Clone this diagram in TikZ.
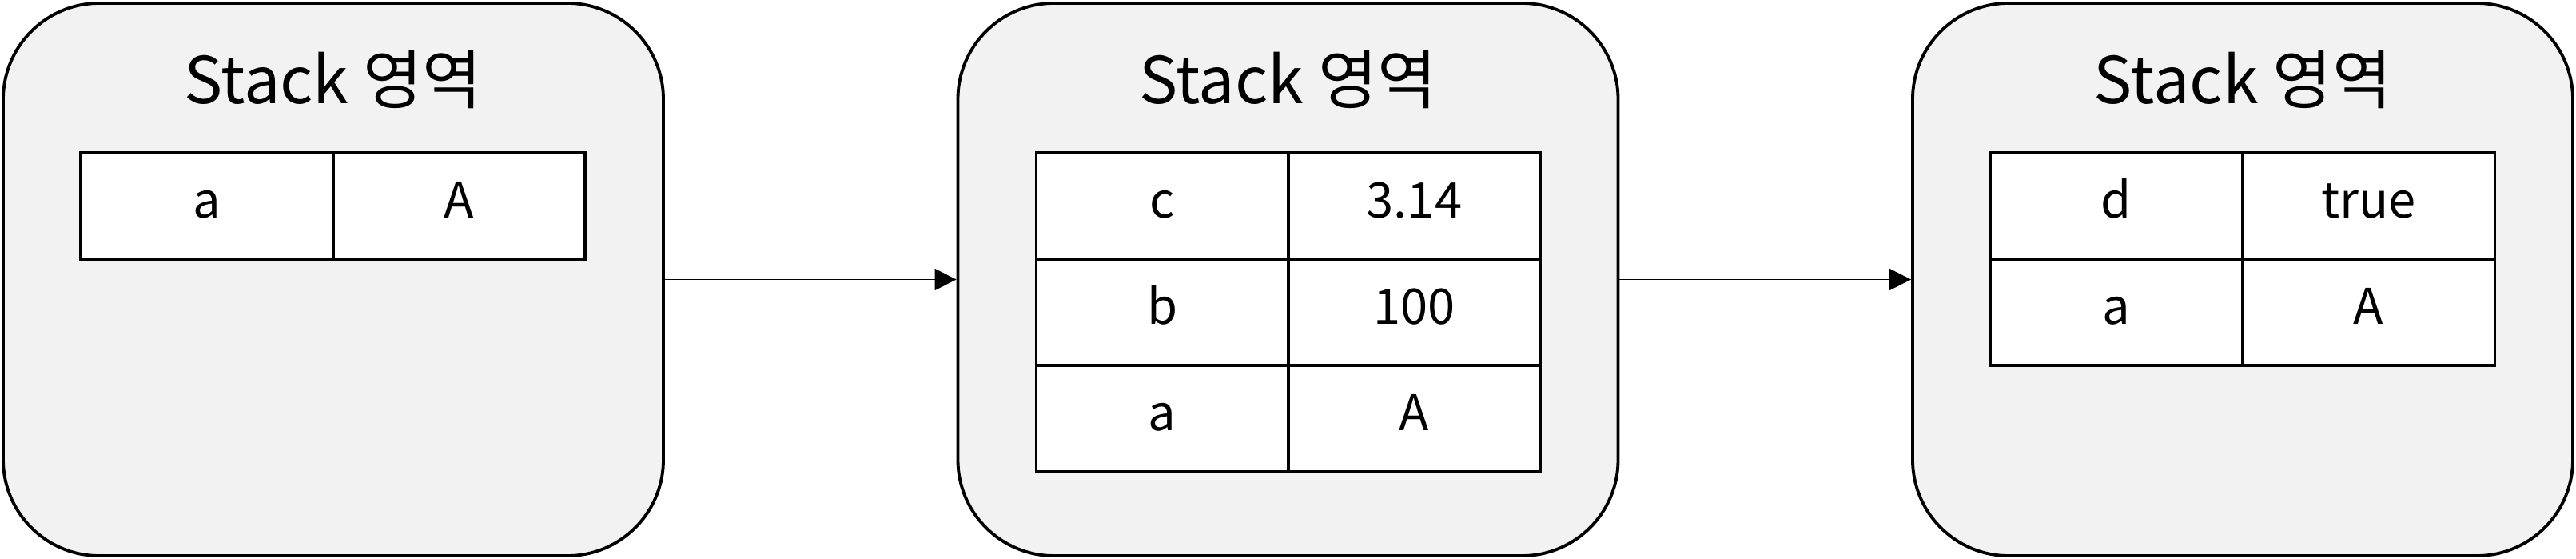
\documentclass[tikz,border=0pt]{standalone}
\usepackage{fontspec}
\setmainfont{Noto Sans CJK KR}
\usetikzlibrary{arrows.meta,positioning}
\definecolor{panel}{HTML}{F2F2F2}

\begin{document}
\begin{tikzpicture}[
 node distance=0pt,
 area/.style={draw,line width=1.1pt,fill=panel,rounded corners=1.2cm,minimum width=8.26cm,minimum height=6.91cm,inner sep=0pt},
 title/.style={anchor=base,font=\fontsize{23}{28}\selectfont},
 cell/.style={draw,line width=1pt,fill=white,minimum width=3.155cm,minimum height=1.33cm,inner sep=0pt,outer sep=0pt,text height=0.45cm,text depth=0.15cm,font=\fontsize{17.5}{21}\selectfont},
 arr/.style={-{Triangle[length=2.7mm,width=2.7mm]},line width=0.45pt}
]
\useasboundingbox (0,0) rectangle (32.23,-6.99);
\node[area] (b1) at (4.17,-3.495) {};
\node[area] (b2) at (16.115,-3.495) {};
\node[area] (b3) at (28.06,-3.495) {};
\foreach \i in {1,2,3}{\node[title] (t\i) at ([yshift=-1.27cm]b\i.north) {Stack 영역};}
% first stack
\node[cell] (k11) at (2.59,-2.575) {a};
\node[cell,right=of k11] (v11) {A};
% second stack
\node[cell] (k21) at (14.54,-2.575) {c};
\node[cell,right=of k21] (v21) {3.14};
\node[cell,below=of k21] (k22) {b};
\node[cell,right=of k22] (v22) {100};
\node[cell,below=of k22] (k23) {a};
\node[cell,right=of k23] (v23) {A};
% third stack
\node[cell] (k31) at (26.48,-2.575) {d};
\node[cell,right=of k31] (v31) {true};
\node[cell,below=of k31] (k32) {a};
\node[cell,right=of k32] (v32) {A};
\draw[arr] (b1)--(b2);
\draw[arr] (b2)--(b3);
\end{tikzpicture}
\end{document}
